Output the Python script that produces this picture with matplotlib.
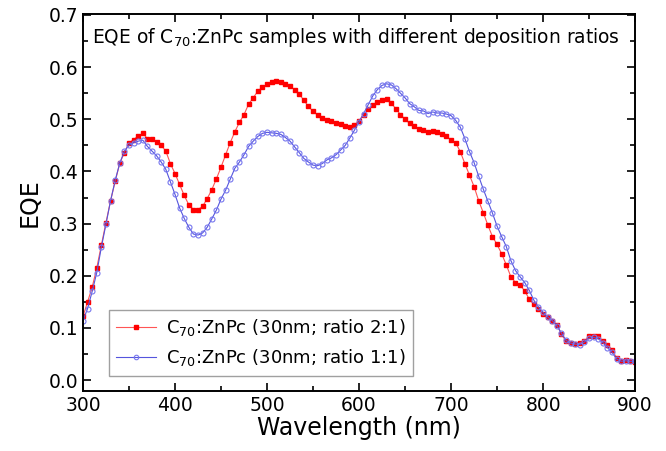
import numpy as np
import matplotlib
matplotlib.use("Agg")
import matplotlib.pyplot as plt
from matplotlib.ticker import MultipleLocator

# wavelength grid (nm), 5 nm steps
wl = np.arange(300, 901, 5)

# EQE, ratio 2:1 (red squares)
eqe_21 = [0.122, 0.150, 0.178, 0.215, 0.259, 0.302, 0.344, 0.381, 0.416, 0.436,
          0.455, 0.461, 0.468, 0.473, 0.463, 0.462, 0.457, 0.450, 0.439, 0.415,
          0.396, 0.375, 0.354, 0.336, 0.327, 0.327, 0.333, 0.348, 0.365, 0.386,
          0.408, 0.432, 0.455, 0.476, 0.494, 0.509, 0.529, 0.541, 0.554, 0.561,
          0.567, 0.571, 0.573, 0.571, 0.568, 0.563, 0.557, 0.549, 0.536, 0.525,
          0.515, 0.508, 0.503, 0.499, 0.496, 0.493, 0.490, 0.487, 0.485, 0.489,
          0.497, 0.509, 0.519, 0.527, 0.533, 0.536, 0.538, 0.531, 0.520, 0.509,
          0.500, 0.492, 0.487, 0.481, 0.479, 0.476, 0.477, 0.475, 0.471, 0.468,
          0.460, 0.455, 0.438, 0.415, 0.393, 0.371, 0.344, 0.321, 0.297, 0.275,
          0.260, 0.242, 0.221, 0.198, 0.187, 0.182, 0.171, 0.155, 0.145, 0.136,
          0.127, 0.121, 0.114, 0.106, 0.088, 0.074, 0.071, 0.070, 0.071, 0.074,
          0.085, 0.085, 0.084, 0.074, 0.068, 0.058, 0.042, 0.036, 0.039, 0.036,
          0.035]

# EQE, ratio 1:1 (blue open circles)
eqe_11 = [0.114, 0.137, 0.170, 0.206, 0.255, 0.299, 0.344, 0.383, 0.416, 0.439,
          0.450, 0.455, 0.458, 0.460, 0.448, 0.439, 0.430, 0.418, 0.404, 0.380,
          0.356, 0.330, 0.310, 0.293, 0.280, 0.278, 0.282, 0.293, 0.309, 0.326,
          0.347, 0.364, 0.385, 0.406, 0.418, 0.432, 0.448, 0.458, 0.467, 0.473,
          0.475, 0.474, 0.473, 0.471, 0.465, 0.458, 0.447, 0.436, 0.425, 0.418,
          0.412, 0.411, 0.415, 0.422, 0.426, 0.432, 0.441, 0.450, 0.464, 0.479,
          0.495, 0.511, 0.528, 0.545, 0.557, 0.565, 0.568, 0.566, 0.559, 0.550,
          0.541, 0.530, 0.524, 0.517, 0.516, 0.511, 0.514, 0.512, 0.512, 0.510,
          0.507, 0.498, 0.485, 0.463, 0.438, 0.417, 0.391, 0.366, 0.343, 0.320,
          0.295, 0.275, 0.256, 0.229, 0.210, 0.198, 0.187, 0.172, 0.153, 0.140,
          0.130, 0.121, 0.114, 0.104, 0.090, 0.076, 0.071, 0.069, 0.068, 0.073,
          0.080, 0.082, 0.079, 0.072, 0.062, 0.053, 0.040, 0.036, 0.037, 0.036,
          0.036]

label_21 = r"C$\mathregular{_{70}}$:ZnPc (30nm; ratio 2:1)"
label_11 = r"C$\mathregular{_{70}}$:ZnPc (30nm; ratio 1:1)"
title_txt = r"EQE of C$\mathregular{_{70}}$:ZnPc samples with different deposition ratios"

fig = plt.figure(figsize=(6.66, 4.51), dpi=100)
ax = fig.add_axes([0.1246, 0.133, 0.829, 0.835])

ax.plot(wl, eqe_21, color="#ff5555", lw=0.8, marker="s", ms=3.3,
        mfc="red", mec="red", label=label_21)
ax.plot(wl, eqe_11, color="#5555dd", lw=0.8, marker="o", ms=3.6,
        mfc="none", mec="#7777ee", mew=0.8, label=label_11)

ax.set_xlim(300, 900)
ax.set_ylim(-0.021, 0.701)
ax.xaxis.set_major_locator(MultipleLocator(100))
ax.xaxis.set_minor_locator(MultipleLocator(50))
ax.yaxis.set_major_locator(MultipleLocator(0.1))
ax.yaxis.set_minor_locator(MultipleLocator(0.05))
ax.yaxis.set_major_formatter(matplotlib.ticker.FormatStrFormatter("%.1f"))
ax.tick_params(which="both", direction="in", top=True, right=True, width=1.2)
ax.tick_params(which="major", length=6, labelsize=13.5)
ax.tick_params(which="minor", length=3.5)
for s in ax.spines.values():
    s.set_linewidth(1.4)

ax.set_xlabel("Wavelength (nm)", fontsize=17, labelpad=1)
ax.set_ylabel("EQE", fontsize=17, labelpad=5)

ax.text(0.016, 0.968, title_txt, transform=ax.transAxes, fontsize=13.4,
        va="top", ha="left")

leg = ax.legend(loc="lower left", bbox_to_anchor=(0.03, 0.017), fontsize=13,
                frameon=True, fancybox=False, edgecolor="#888888",
                handlelength=2.2, borderpad=0.4, labelspacing=0.5,
                handletextpad=0.6, markerscale=0.9)
leg.get_frame().set_linewidth(1.0)

fig.savefig("out.png", dpi=100)
